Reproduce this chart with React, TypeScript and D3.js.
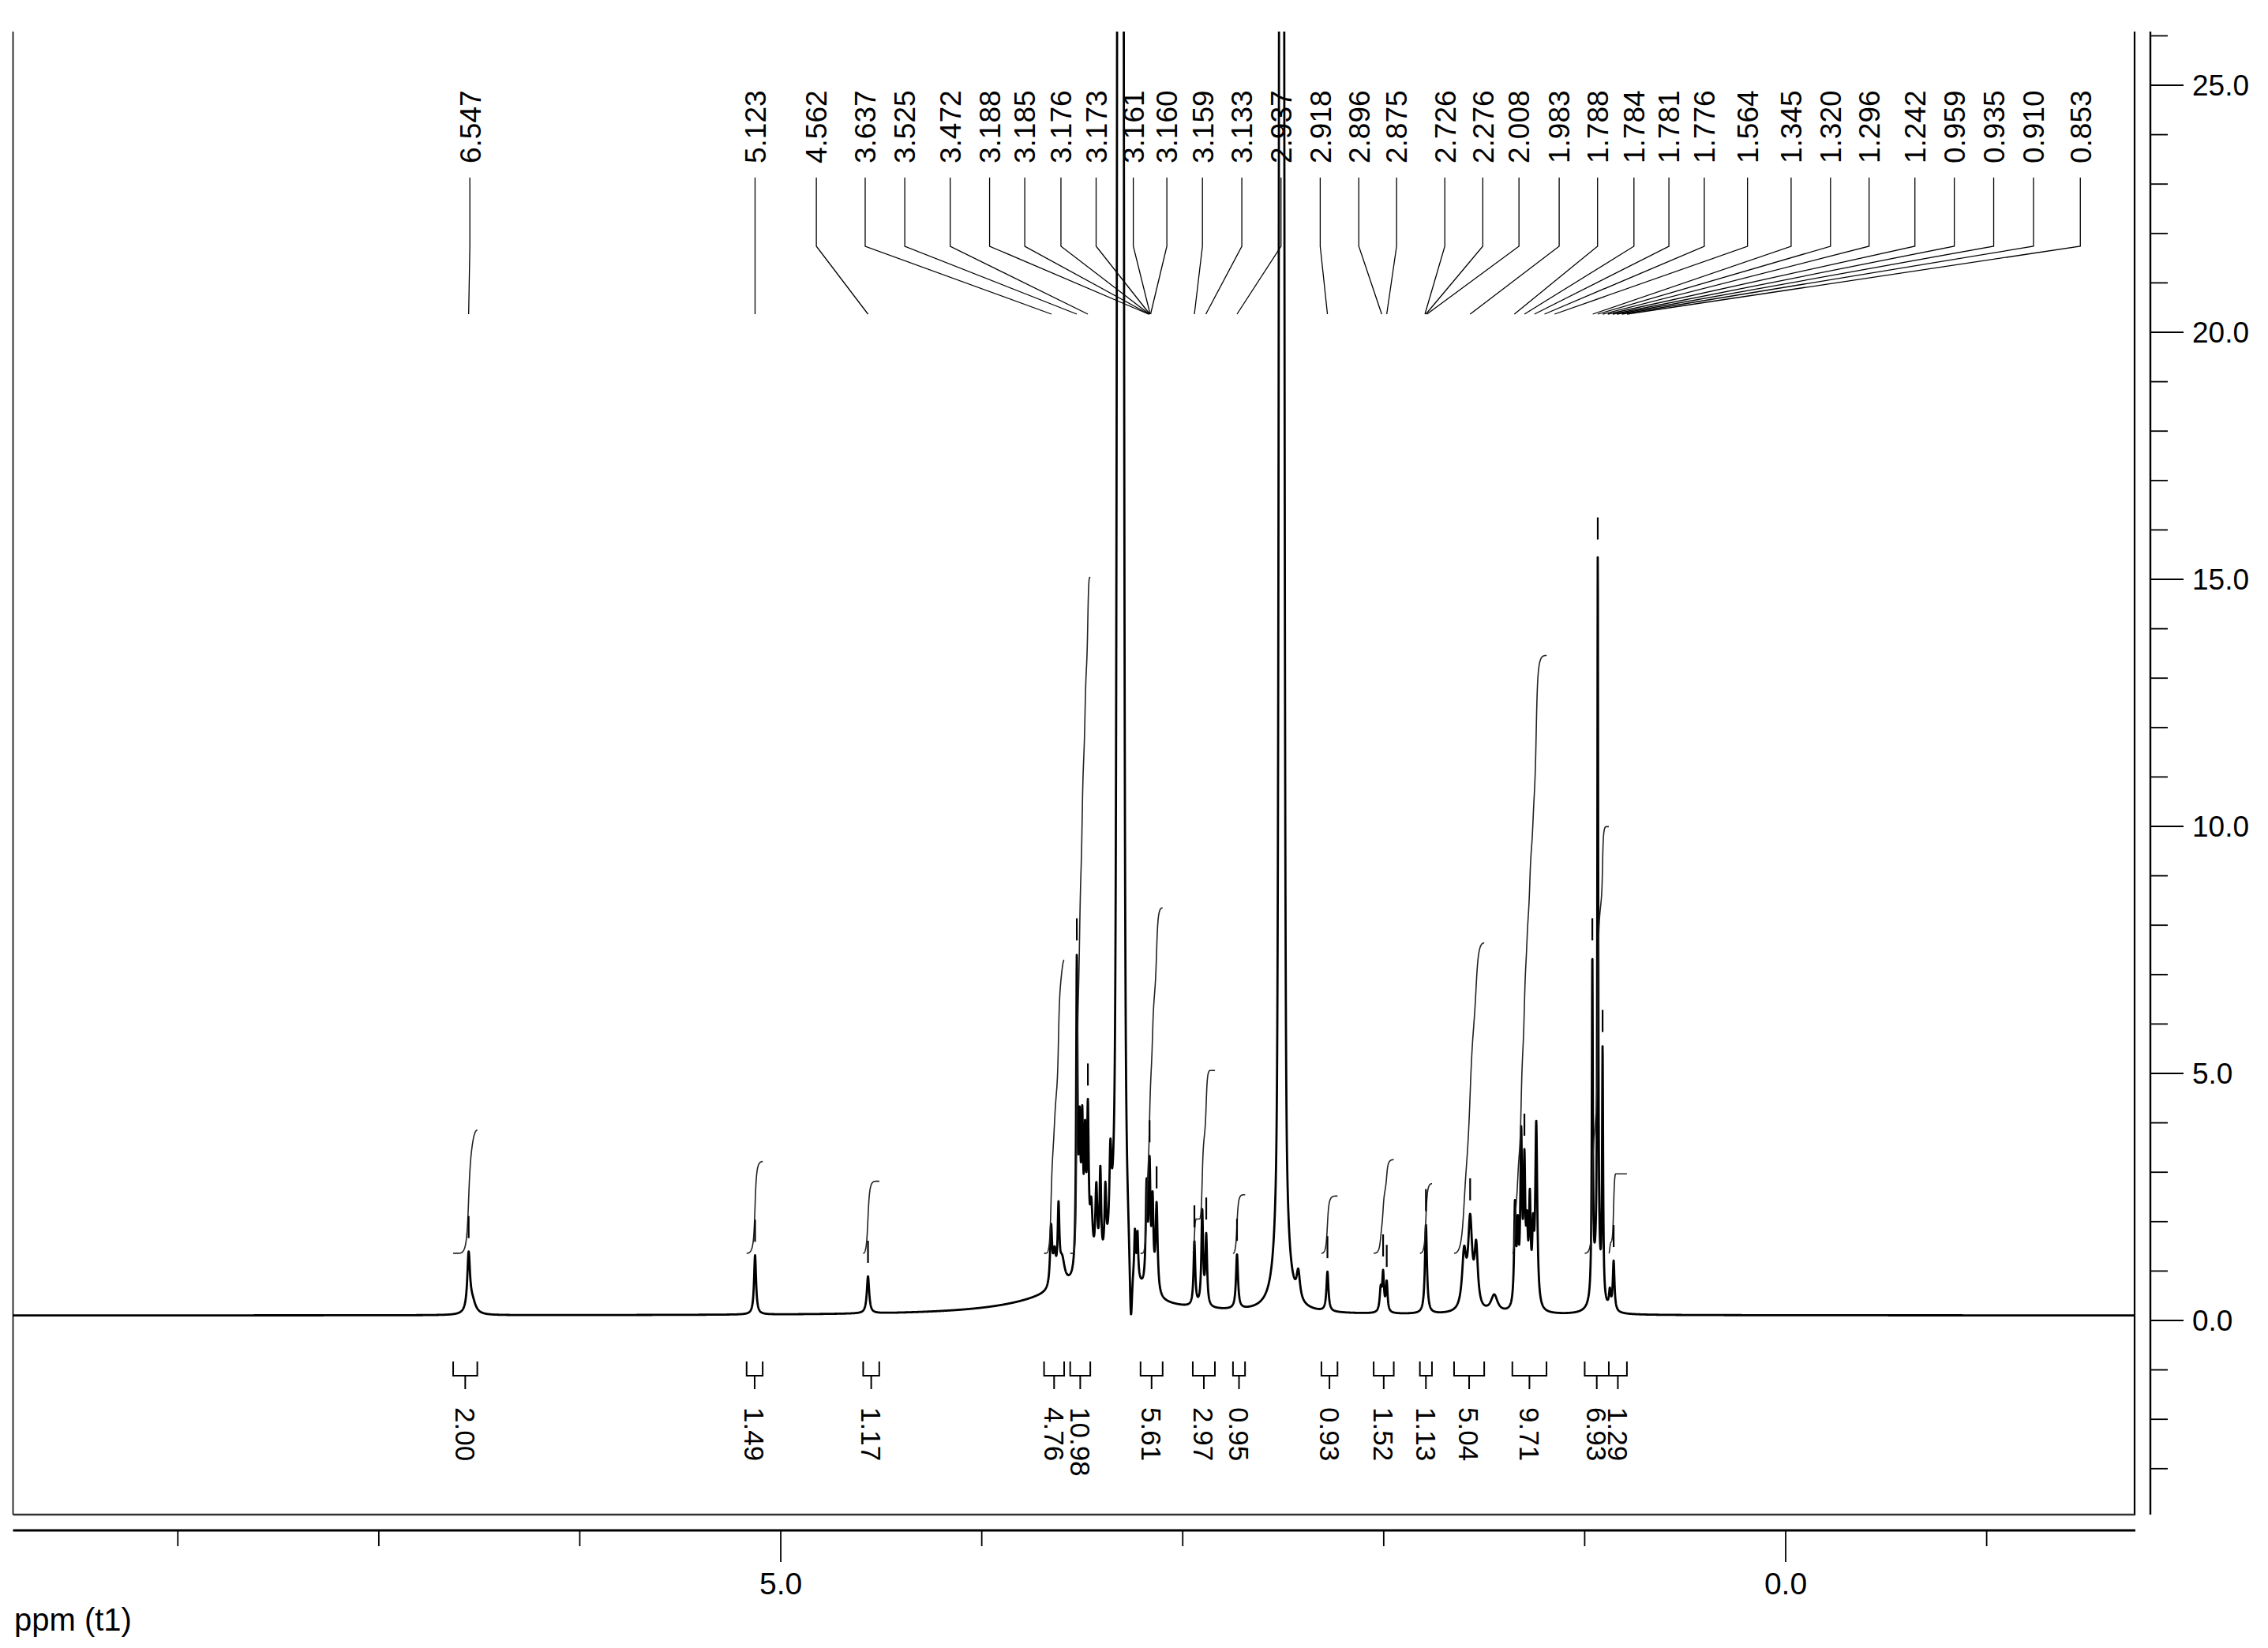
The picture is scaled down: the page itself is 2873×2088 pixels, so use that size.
import React from "react";
import * as d3 from "d3";

const W = 2873;
const H = 2088;
const FONT = "'Liberation Sans', Arial, Helvetica, sans-serif";

// ---------- axes ----------
const ppmDomain: [number, number] = [8.82, -1.736];
const xTickValues = [8, 7, 6, 5, 4, 3, 2, 1, 0, -1];
const xTickLabels = [5, 0];
const yTickValues = [-3, -2, -1, 0, 1, 2, 3, 4, 5, 6, 7, 8, 9, 10, 11, 12, 13, 14, 15, 16, 17, 18, 19, 20, 21, 22, 23, 24, 25, 26];
const yTickLabels = [0, 5, 10, 15, 20, 25];

// ---------- spectrum (peak table) ----------
const baseLevel = 0.1;
// [ppm, height, half-width (ppm), lorentz fraction]
const peaks: [number, number, number, number?][] = [
  [3.5, 0.55, 0.3],
  [6.553, 1.15, 0.008],
  [6.535, 0.25, 0.02],
  [5.128, 1.2, 0.006],
  [4.566, 0.75, 0.007],
  [3.655, 1.2, 0.006],
  [3.638, 0.6, 0.008],
  [3.618, 1.45, 0.005],
  [3.6, 0.5, 0.015],
  [3.527, 6.2, 0.004],
  [3.513, 2.6, 0.005],
  [3.5, 2.7, 0.005],
  [3.486, 2.4, 0.005],
  [3.472, 3.0, 0.005],
  [3.455, 1.2, 0.008],
  [3.43, 1.6, 0.006],
  [3.41, 1.9, 0.005],
  [3.385, 1.4, 0.005],
  [3.36, 1.7, 0.006],
  [3.316, 45, 0.009, 0.3],
  [3.31, 45, 0.009, 0.3],
  [3.304, 45, 0.009, 0.3],
  [3.258, -1.6, 0.008],
  [3.238, 0.9, 0.004],
  [3.225, 0.9, 0.004],
  [3.18, 2.0, 0.005],
  [3.165, 2.4, 0.005],
  [3.15, 1.7, 0.005],
  [3.13, 1.8, 0.006],
  [2.942, 1.3, 0.005],
  [2.903, 1.9, 0.005],
  [2.883, 1.4, 0.005],
  [2.73, 1.1, 0.006],
  [2.508, 100, 0.009, 0.3],
  [2.425, 0.55, 0.01],
  [2.28, 0.8, 0.006],
  [2.015, 0.45, 0.006],
  [2.003, 0.75, 0.005],
  [1.985, 0.6, 0.005],
  [1.79, 1.8, 0.006],
  [1.6, 1.1, 0.012],
  [1.57, 1.75, 0.012],
  [1.54, 1.2, 0.01],
  [1.45, 0.35, 0.02],
  [1.347, 2.0, 0.005],
  [1.333, 1.4, 0.005],
  [1.316, 3.3, 0.005],
  [1.3, 2.7, 0.005],
  [1.287, 1.3, 0.005],
  [1.273, 2.0, 0.005],
  [1.257, 1.3, 0.005],
  [1.241, 3.7, 0.006],
  [0.962, 6.8, 0.003],
  [0.935, 14.5, 0.0025],
  [0.911, 5.0, 0.003],
  [0.94, 0.8, 0.02],
  [0.875, 0.35, 0.005],
  [0.856, 1.0, 0.005],
];

// picked-peak tick marks
const markerPpm = [6.553, 5.128, 4.566, 3.527, 3.472, 3.165, 3.13, 2.942, 2.883, 2.73, 2.28, 2.003, 1.985, 1.79, 1.57, 1.3, 0.962, 0.935, 0.911, 0.856];

// ---------- peak labels ----------
const peakLabels = ["6.547", "5.123", "4.562", "3.637", "3.525", "3.472", "3.188", "3.185", "3.176", "3.173", "3.161", "3.160", "3.159", "3.133", "2.937", "2.918", "2.896", "2.875", "2.726", "2.276", "2.008", "1.983", "1.788", "1.784", "1.781", "1.776", "1.564", "1.345", "1.320", "1.296", "1.242", "0.959", "0.935", "0.910", "0.853"];
const labelAtPpm = [6.547, 5.128, 4.823, 4.58, 4.383, 4.157, 3.961, 3.786, 3.606, 3.431, 3.246, 3.079, 2.902, 2.706, 2.511, 2.316, 2.124, 1.936, 1.696, 1.507, 1.327, 1.127, 0.936, 0.755, 0.581, 0.405, 0.19, -0.027, -0.223, -0.415, -0.643, -0.839, -1.035, -1.233, -1.466];
const labelTargetPpm = [6.553, 5.128, 4.566, 3.653, 3.527, 3.472, 3.17, 3.168, 3.166, 3.164, 3.162, 3.16, 2.942, 2.885, 2.73, 2.28, 2.01, 1.985, 1.795, 1.79, 1.785, 1.57, 1.35, 1.3, 1.25, 1.2, 1.15, 0.96, 0.935, 0.91, 0.885, 0.86, 0.84, 0.815, 0.79];

// ---------- integrals ----------
const integralValues = [2.0, 1.49, 1.17, 4.76, 10.98, 5.61, 2.97, 0.95, 0.93, 1.52, 1.13, 5.04, 9.71, 6.93, 1.29];
const integralFrom = [6.63, 5.17, 4.59, 3.69, 3.56, 3.21, 2.95, 2.75, 2.31, 2.05, 1.82, 1.65, 1.36, 1.0, 0.88];
const integralTo = [6.51, 5.09, 4.51, 3.59, 3.46, 3.1, 2.84, 2.69, 2.23, 1.95, 1.76, 1.5, 1.19, 0.88, 0.79];
const integralOffset = 1.36; // intensity units where integral curves start
const integralScale = 1.246; // intensity units per integral unit

// ---------- layout ----------
const PL = 16.5, PR = 2704, PT = 40, PB = 1919;
const AXIS_X = 2724;
const AXIS_Y = 1939;

function shape(d: number, w: number, eta: number) {
  const r = d / w;
  return eta / (1 + r * r) + (1 - eta) * Math.exp(-Math.LN2 * r * r);
}
function spec(p: number) {
  let s = baseLevel;
  for (const pk of peaks) {
    const eta = pk[3] === undefined ? 1 : (pk[3] as number);
    s += pk[1] * shape(p - pk[0], pk[2], eta);
  }
  return s;
}

export default function App() {
  const x = d3.scaleLinear().domain(ppmDomain).range([PL, PR]);
  const y = d3.scaleLinear().domain([0, 25]).range([1673, 108]);

  const step = 0.0008;
  const grid = d3.range(ppmDomain[0], ppmDomain[1] - step, -step);
  const pts: [number, number][] = grid.map((p) => [p, spec(p)]);
  const line = d3.line<[number, number]>().x((d) => x(d[0])).y((d) => y(d[1]));
  const specPath = line(pts) || "";

  // integral curves
  const integralPaths = integralValues.map((v, i) => {
    const a = integralFrom[i], b = integralTo[i];
    const ps = d3.range(a, b - step / 2, -step / 2);
    const sa = spec(a), sb = spec(b);
    let cum = 0;
    const cs = ps.map((p) => {
      const base = sa + ((sb - sa) * (a - p)) / (a - b);
      cum += Math.max(0, spec(p) - base);
      return cum;
    });
    const tot = cum || 1;
    const data: [number, number][] = ps.map((p, k) => [p, integralOffset + integralScale * v * (cs[k] / tot)]);
    return line(data) || "";
  });

  const markers = markerPpm.map((m) => {
    let mx = -Infinity;
    for (let p = m - 0.005; p <= m + 0.005; p += 0.0002) mx = Math.max(mx, spec(p));
    const top = y(mx);
    return { x: x(m), y1: top - 45, y2: top - 17 };
  });

  const stroke = "#000";
  return (
    <div style={{ position: "absolute", left: 0, top: 0, width: W, height: H, background: "#fff" }}>
      <svg width={W} height={H} viewBox={`0 0 ${W} ${H}`} style={{ display: "block", background: "#fff" }}>
        <defs>
          <clipPath id="plotClip">
            <rect x={PL} y={PT} width={PR - PL} height={PB - PT} />
          </clipPath>
        </defs>

        {/* frame */}
        <line x1={PL} y1={PT} x2={PL} y2={PB} stroke={stroke} strokeWidth={1.6} />
        <line x1={PR} y1={PT} x2={PR} y2={PB + 1} stroke={stroke} strokeWidth={2.2} />
        <line x1={PL} y1={PB} x2={PR} y2={PB} stroke="#333" strokeWidth={2.6} />

        {/* spectrum */}
        <g clipPath="url(#plotClip)">
          <path d={specPath} fill="none" stroke={stroke} strokeWidth={2.8} strokeLinejoin="round" />
          {integralPaths.map((d, i) => (
            <path key={i} d={d} fill="none" stroke="#222" strokeWidth={1.6} />
          ))}
          {markers.map((m, i) => (
            <line key={i} x1={m.x} x2={m.x} y1={m.y1} y2={m.y2} stroke={stroke} strokeWidth={2.2} />
          ))}
        </g>

        {/* peak labels */}
        {peakLabels.map((t, i) => {
          const lx = x(labelAtPpm[i]);
          const tx = x(labelTargetPpm[i]);
          return (
            <g key={i}>
              <text
                x={lx}
                y={207}
                transform={`rotate(-90 ${lx} 207)`}
                dy="0.36em"
                fontFamily={FONT}
                fontSize={37}
                textAnchor="start"
                fill="#000"
              >
                {t}
              </text>
              <path d={`M${lx},225 L${lx},312 L${tx},398`} fill="none" stroke={stroke} strokeWidth={1.3} />
            </g>
          );
        })}

        {/* integral brackets and labels */}
        {integralValues.map((v, i) => {
          const xa = x(integralFrom[i]);
          const xb = x(integralTo[i]);
          const mid = (xa + xb) / 2;
          return (
            <g key={i}>
              <path
                d={`M${xa},1725 V1743 H${xb} V1725 M${mid},1743 V1760`}
                fill="none"
                stroke={stroke}
                strokeWidth={2}
              />
              <text
                x={mid}
                y={1783}
                transform={`rotate(90 ${mid} 1783)`}
                dy="0.36em"
                fontFamily={FONT}
                fontSize={35}
                textAnchor="start"
                fill="#000"
              >
                {d3.format(".2f")(v)}
              </text>
            </g>
          );
        })}

        {/* right intensity axis */}
        <line x1={AXIS_X} y1={PT} x2={AXIS_X} y2={PB} stroke={stroke} strokeWidth={2.4} />
        {yTickValues.map((v) => {
          const major = yTickLabels.includes(v);
          return (
            <line key={v} x1={AXIS_X} x2={AXIS_X + (major ? 42 : 22)} y1={y(v)} y2={y(v)} stroke={stroke} strokeWidth={1.8} />
          );
        })}
        {yTickLabels.map((v) => (
          <text key={v} x={2777} y={y(v)} dy="0.36em" fontFamily={FONT} fontSize={37} fill="#000">
            {d3.format(".1f")(v)}
          </text>
        ))}

        {/* bottom ppm axis */}
        <line x1={PL} y1={AXIS_Y} x2={PR + 1} y2={AXIS_Y} stroke={stroke} strokeWidth={3} />
        {xTickValues.map((v) => {
          const major = xTickLabels.includes(v);
          return (
            <line key={v} x1={x(v)} x2={x(v)} y1={AXIS_Y} y2={AXIS_Y + (major ? 40 : 20)} stroke={stroke} strokeWidth={1.8} />
          );
        })}
        {xTickLabels.map((v) => (
          <text key={v} x={x(v)} y={2020} textAnchor="middle" fontFamily={FONT} fontSize={39} fill="#000">
            {d3.format(".1f")(v)}
          </text>
        ))}
        <text x={18} y={2066} fontFamily={FONT} fontSize={40} fill="#000">
          ppm (t1)
        </text>
      </svg>
    </div>
  );
}
